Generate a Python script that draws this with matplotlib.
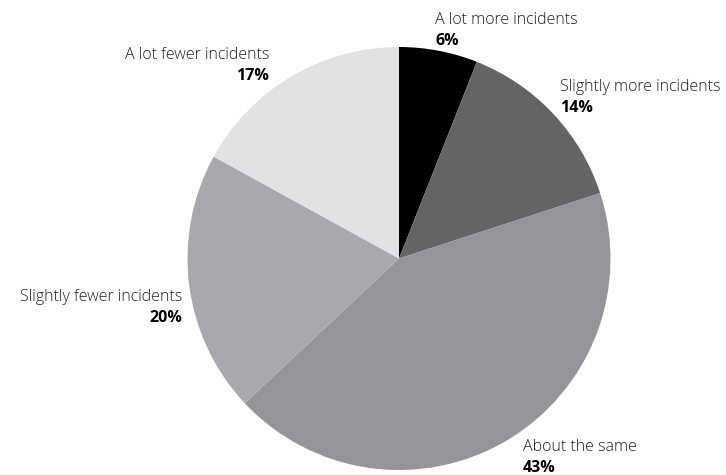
import matplotlib
matplotlib.use("Agg")
from matplotlib import pyplot as plt

labels = ["A lot more incidents", "Slightly more incidents", "About the same",
          "Slightly fewer incidents", "A lot fewer incidents"]
shares = [6, 14, 43, 20, 17]
colors = ["#000000", "#636466", "#939598", "#a7a9ac", "#e1e2e3"]

# label anchor (x px, y px of name line, alignment)
label_pos = [(435, 20, "left"), (560, 87, "left"), (523, 447, "left"),
             (182, 297, "right"), (269, 55, "right")]

W, H = 726, 475
plt.rcParams['font.family'] = ['Open Sans', 'DejaVu Sans']

fig = plt.figure(figsize=(W / 100, H / 100), dpi=100)
cx, cy, r = 399, 258.5, 211.5
ax = fig.add_axes([(cx - r) / W, (H - cy - r) / H, 2 * r / W, 2 * r / H])
ax.pie(shares, colors=colors, startangle=90, counterclock=False, radius=1,
       wedgeprops=dict(linewidth=0))
ax.set_xlim(-1, 1)
ax.set_ylim(-1, 1)
ax.set_aspect('equal')
ax.axis('off')

for name, val, (x, y, ha) in zip(labels, shares, label_pos):
    fig.text(x / W, 1 - y / H, name, ha=ha, va='center', fontsize=11.5,
             weight='light', color='#231f20')
    fig.text(x / W, 1 - (y + 21) / H, f"{val}%", ha=ha, va='center',
             fontsize=11.5, weight='bold', color='#000000')

fig.savefig("out.png", dpi=100)
